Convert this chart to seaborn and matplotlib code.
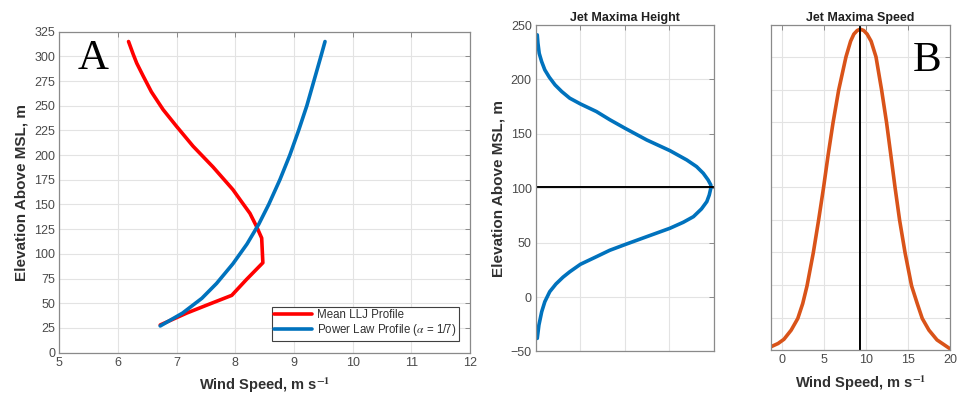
import matplotlib
matplotlib.use("Agg")
import matplotlib.pyplot as plt
import seaborn as sns
import pandas as pd

# ---------------- data ----------------
# Panel A: mean LLJ profile (wind speed m/s vs elevation m)
llj_speed = [6.72, 7.17, 7.51, 7.94, 8.19, 8.47, 8.45, 8.36, 8.25, 8.08, 7.96,
             7.62, 7.28, 7.00, 6.77, 6.57, 6.43, 6.32, 6.26, 6.18]
llj_height = [28, 40, 48, 58, 74, 91, 116, 128, 141, 155, 165,
              188, 209, 229, 246, 264, 280, 293, 302, 315]
# Panel A: power-law profile (alpha = 1/7)
pl_speed = [6.72, 7.10, 7.43, 7.68, 7.96, 8.20, 8.40, 8.57, 8.76, 8.93, 9.08,
            9.22, 9.34, 9.46, 9.53]
pl_height = [27, 40, 55, 70, 90, 110, 130, 150, 175, 200, 225, 250, 275, 300, 315]

# Jet maxima height distribution (relative density, elevation m)
jh_density = [0.03, 0.067, 0.13, 0.20, 0.31, 0.45, 0.61, 0.76, 1.00, 1.36,
              1.66, 2.02, 2.49, 3.01, 3.31, 3.54, 3.72, 3.84, 3.895, 3.93,
              3.93, 3.87, 3.76, 3.61, 3.39, 3.01, 2.49, 2.00, 1.66, 1.36,
              1.00, 0.76, 0.58, 0.43, 0.30, 0.20, 0.128, 0.074, 0.045, 0.03]
jh_height = [-38, -25.8, -13.5, -4.3, 4.9, 12, 18.3, 23.2, 30.1, 37.1,
             43, 48.5, 55.5, 63.2, 68.7, 73.9, 81, 87.7, 93.8, 100,
             103, 107.6, 113.8, 119.9, 126, 134.6, 144.4, 155.2, 163, 170.5,
             177.5, 182.8, 188.9, 195, 202.1, 208.8, 216.5, 224, 233.4, 241]
jh_mode = 101.5

# Jet maxima speed distribution (wind speed m/s, relative density)
js_speed = [-1.35, -0.5, 0.2, 1.06, 1.85, 2.44, 2.95, 3.70, 4.33, 4.92, 5.47,
            6.06, 6.73, 7.60, 8.15, 8.54, 8.94, 9.30, 9.72, 10.12, 10.60,
            11.18, 11.85, 12.44, 12.95, 13.46, 14.00, 14.65, 15.43, 16.10,
            16.70, 17.50, 18.46, 20.0]
js_density = [0.10, 0.20, 0.33, 0.61, 0.97, 1.43, 1.97, 2.99, 3.99, 4.99, 6.00,
              7.00, 8.00, 9.02, 9.50, 9.72, 9.83, 9.87, 9.83, 9.72, 9.50,
              9.02, 8.00, 7.00, 6.00, 4.99, 3.99, 2.99, 1.97, 1.43,
              0.97, 0.61, 0.31, 0.04]
js_mode = 9.3

legend_labels = ["Mean LLJ Profile", r"Power Law Profile ($\alpha$ = 1/7)"]

# ---------------- style ----------------
sns.set_theme(style="white")
plt.rcParams["font.family"] = ["Liberation Sans", "DejaVu Sans"]
plt.rcParams["mathtext.fontset"] = "stix"

RED = "#ff0000"
BLUE = "#0072bd"
ORANGE = "#d95319"
SPINE = "#8a8a8a"
TICKC = "#4a4a4a"
GRID = "#e3e3e3"

fig = plt.figure(figsize=(9.57, 3.98), dpi=100)
axA = fig.add_axes([0.062, 0.114, 0.429, 0.8065])
axH = fig.add_axes([0.560, 0.117, 0.186, 0.820])
axS = fig.add_axes([0.8056, 0.1206, 0.187, 0.8166])


def style(ax):
    for s in ax.spines.values():
        s.set_color(SPINE)
        s.set_linewidth(0.9)
    ax.grid(True, color=GRID, linewidth=0.8)
    ax.set_axisbelow(True)
    ax.tick_params(direction="in", top=True, right=True, length=3.5,
                   width=0.7, color=SPINE, labelcolor=TICKC, labelsize=9,
                   pad=3)


LBL = dict(fontsize=10.5, fontweight="bold", color="#303030")

# ---- Panel A ----
dfA1 = pd.DataFrame({"speed": llj_speed, "height": llj_height})
dfA2 = pd.DataFrame({"speed": pl_speed, "height": pl_height})
sns.lineplot(data=dfA1, x="speed", y="height", sort=False, estimator=None,
             color=RED, linewidth=2.6, ax=axA, label=legend_labels[0])
sns.lineplot(data=dfA2, x="speed", y="height", sort=False, estimator=None,
             color=BLUE, linewidth=2.6, ax=axA, label=legend_labels[1])
axA.set_xlim(5, 12)
axA.set_ylim(0, 325)
axA.set_xticks(range(5, 13))
axA.set_yticks(range(0, 326, 25))
style(axA)
axA.set_xlabel(r"Wind Speed, m s$^{\mathbf{-1}}$", labelpad=5, **LBL)
axA.set_ylabel("Elevation Above MSL, m", fontsize=11, fontweight="bold",
               color="#303030", labelpad=4)
leg = axA.legend(loc="lower right", bbox_to_anchor=(0.973, 0.037),
                 borderaxespad=0, fontsize=8.3, frameon=True, fancybox=False,
                 framealpha=1, edgecolor="#404040", handlelength=3.3,
                 handletextpad=0.4, borderpad=0.2, labelspacing=0.12)
leg.get_frame().set_linewidth(0.8)
for t in leg.get_texts():
    t.set_color("#303030")
axA.text(0.045, 0.975, "A", transform=axA.transAxes, fontsize=31,
         family="Liberation Serif", va="top", ha="left", color="black")

# ---- Jet maxima height ----
dfH = pd.DataFrame({"density": jh_density, "height": jh_height})
sns.lineplot(data=dfH, x="density", y="height", sort=False, estimator=None,
             color=BLUE, linewidth=2.6, ax=axH)
axH.axhline(jh_mode, color="black", linewidth=1.4)
axH.set_xlim(0, 4)
axH.set_ylim(-50, 250)
axH.set_xticks([0, 1, 2, 3, 4])
axH.set_yticks(range(-50, 251, 50))
style(axH)
axH.set_xticklabels([])
axH.set_xlabel("")
axH.set_ylabel("Elevation Above MSL, m", fontsize=11, fontweight="bold",
               color="#303030", labelpad=4)
axH.set_title("Jet Maxima Height", fontsize=9, fontweight="bold",
              color="#202020", pad=3)

# ---- Jet maxima speed ----
dfS = pd.DataFrame({"speed": js_speed, "density": js_density})
sns.lineplot(data=dfS, x="speed", y="density", sort=False, estimator=None,
             color=ORANGE, linewidth=2.6, ax=axS)
axS.axvline(js_mode, color="black", linewidth=1.4)
axS.set_xlim(-1.35, 20)
axS.set_ylim(0, 10)
axS.set_xticks([0, 5, 10, 15, 20])
axS.set_yticks(range(0, 11))
style(axS)
axS.set_yticklabels([])
axS.set_ylabel("")
axS.set_xlabel(r"Wind Speed, m s$^{\mathbf{-1}}$", labelpad=5, **LBL)
axS.set_title("Jet Maxima Speed", fontsize=9, fontweight="bold",
              color="#202020", pad=3)
axS.text(0.79, 0.95, "B", transform=axS.transAxes, fontsize=31,
         family="Liberation Serif", va="top", ha="left", color="black")

fig.savefig("out.png", dpi=100)
